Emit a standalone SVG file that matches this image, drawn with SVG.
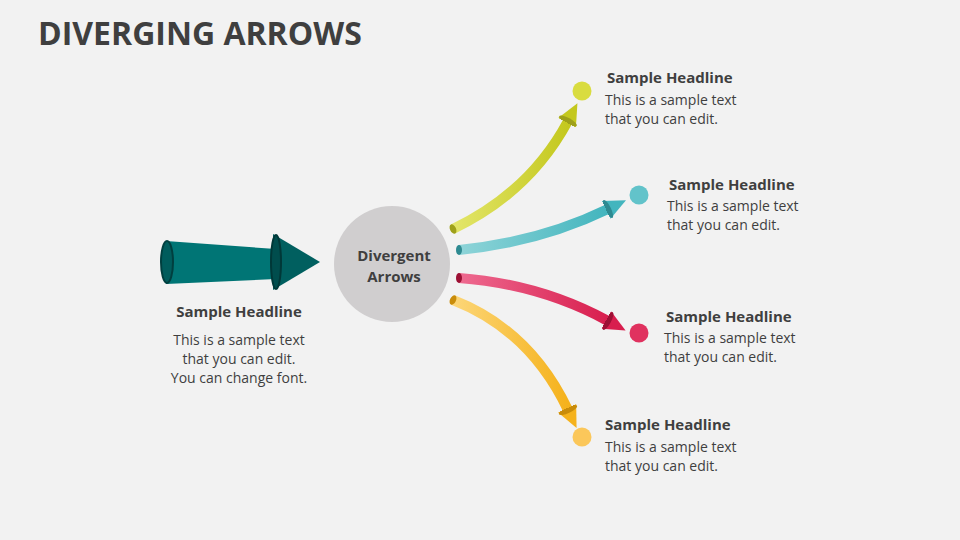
<svg xmlns="http://www.w3.org/2000/svg" width="960" height="540" viewBox="0 0 960 540">
<style>
.h{font-family:"Open Sans","Liberation Sans",sans-serif;font-weight:bold;font-size:15px;fill:#3f3f3f}
.t{font-family:"Open Sans","Liberation Sans",sans-serif;font-size:14px;fill:#3f3f3f}
.c{fill:none;stroke-width:10;stroke-linecap:butt}
</style>
<defs>
<marker id="my" markerUnits="userSpaceOnUse" markerWidth="30" markerHeight="30" refX="2" refY="12" orient="auto"><path d="M0,2 L22,12 L0,22 Z" fill="#c4c81e"/><ellipse cx="2" cy="12" rx="3" ry="10" fill="#9ea01a"/></marker>
<marker id="mt" markerUnits="userSpaceOnUse" markerWidth="30" markerHeight="30" refX="2" refY="12" orient="auto"><path d="M0,2 L22,12 L0,22 Z" fill="#43b5be"/><ellipse cx="2" cy="12" rx="3" ry="10" fill="#2e8a91"/></marker>
<marker id="mp" markerUnits="userSpaceOnUse" markerWidth="30" markerHeight="30" refX="2" refY="12" orient="auto"><path d="M0,2 L22,12 L0,22 Z" fill="#d81e4e"/><ellipse cx="2" cy="12" rx="3" ry="10" fill="#9c1034"/></marker>
<marker id="mo" markerUnits="userSpaceOnUse" markerWidth="30" markerHeight="30" refX="2" refY="12" orient="auto"><path d="M0,2 L22,12 L0,22 Z" fill="#f5b21c"/><ellipse cx="2" cy="12" rx="3" ry="10" fill="#c98c0a"/></marker>
<linearGradient id="gy" x1="0" x2="1"><stop offset="0" stop-color="#e3e66a"/><stop offset="1" stop-color="#c4c81e"/></linearGradient>
<linearGradient id="gt" x1="0" x2="1"><stop offset="0" stop-color="#8ed4d8"/><stop offset="1" stop-color="#43b5be"/></linearGradient>
<linearGradient id="gp" x1="0" x2="1"><stop offset="0" stop-color="#ee6a90"/><stop offset="1" stop-color="#d81e4e"/></linearGradient>
<linearGradient id="go" x1="0" x2="1"><stop offset="0" stop-color="#fcd678"/><stop offset="1" stop-color="#f5b21c"/></linearGradient>
</defs>
<rect width="960" height="540" fill="#f2f2f2"/>
<text x="38" y="45" font-family="Open Sans,Liberation Sans,sans-serif" font-weight="bold" font-size="32" fill="#3f3f3f">DIVERGING ARROWS</text>
<g id="connectors">
<path class="c" d="M453,229 Q530,192 568,121" stroke="url(#gy)" marker-end="url(#my)"/>
<path class="c" d="M459,250 Q540,242 608,209" stroke="url(#gt)" marker-end="url(#mt)"/>
<path class="c" d="M459,278 Q540,284 608,321" stroke="url(#gp)" marker-end="url(#mp)"/>
<path class="c" d="M453,300 Q530,330 568,410" stroke="url(#go)" marker-end="url(#mo)"/>
<ellipse cx="453" cy="229" rx="3" ry="5" fill="#9ea01a" transform="rotate(-25 453 229)"/>
<ellipse cx="459" cy="250" rx="3" ry="5" fill="#2e8a91"/>
<ellipse cx="459" cy="278" rx="3" ry="5" fill="#9c1034"/>
<ellipse cx="453" cy="300" rx="3" ry="5" fill="#c98c0a" transform="rotate(25 453 300)"/>
</g>
<g id="input">
<polygon points="166,241 276,249 276,279 166,284" fill="#007575"/>
<ellipse cx="167" cy="262" rx="6" ry="21" fill="#005c5c" stroke="#003f3f" stroke-width="2"/>
<polygon points="273,234 320,262 273,290" fill="#005f5f"/>
<ellipse cx="276" cy="262" rx="5" ry="27" fill="#004d4d" stroke="#003838" stroke-width="2"/>
<text class="h" x="239" y="317" text-anchor="middle">Sample Headline</text>
<text class="t" x="239" y="345" text-anchor="middle">This is a sample text</text>
<text class="t" x="239" y="364" text-anchor="middle">that you can edit.</text>
<text class="t" x="239" y="383" text-anchor="middle">You can change font.</text>
</g>
<g id="center">
<circle cx="392" cy="264" r="58" fill="#d0cecf"/>
<text class="h" x="394" y="261" text-anchor="middle">Divergent</text>
<text class="h" x="394" y="282" text-anchor="middle">Arrows</text>
</g>
<g id="n1">
<circle cx="582" cy="91" r="9.5" fill="#d9dc3f"/>
<text class="h" x="607" y="83">Sample Headline</text>
<text class="t" x="605" y="105">This is a sample text</text>
<text class="t" x="605" y="124">that you can edit.</text>
</g>
<g id="n2">
<circle cx="639" cy="195" r="9.5" fill="#62c3ca"/>
<text class="h" x="669" y="190">Sample Headline</text>
<text class="t" x="667" y="211">This is a sample text</text>
<text class="t" x="667" y="230">that you can edit.</text>
</g>
<g id="n3">
<circle cx="639" cy="333" r="9.5" fill="#e0325f"/>
<text class="h" x="666" y="322">Sample Headline</text>
<text class="t" x="664" y="343">This is a sample text</text>
<text class="t" x="664" y="362">that you can edit.</text>
</g>
<g id="n4">
<circle cx="582" cy="437" r="9.5" fill="#fbc75a"/>
<text class="h" x="605" y="430">Sample Headline</text>
<text class="t" x="605" y="452">This is a sample text</text>
<text class="t" x="605" y="471">that you can edit.</text>
</g>
</svg>
